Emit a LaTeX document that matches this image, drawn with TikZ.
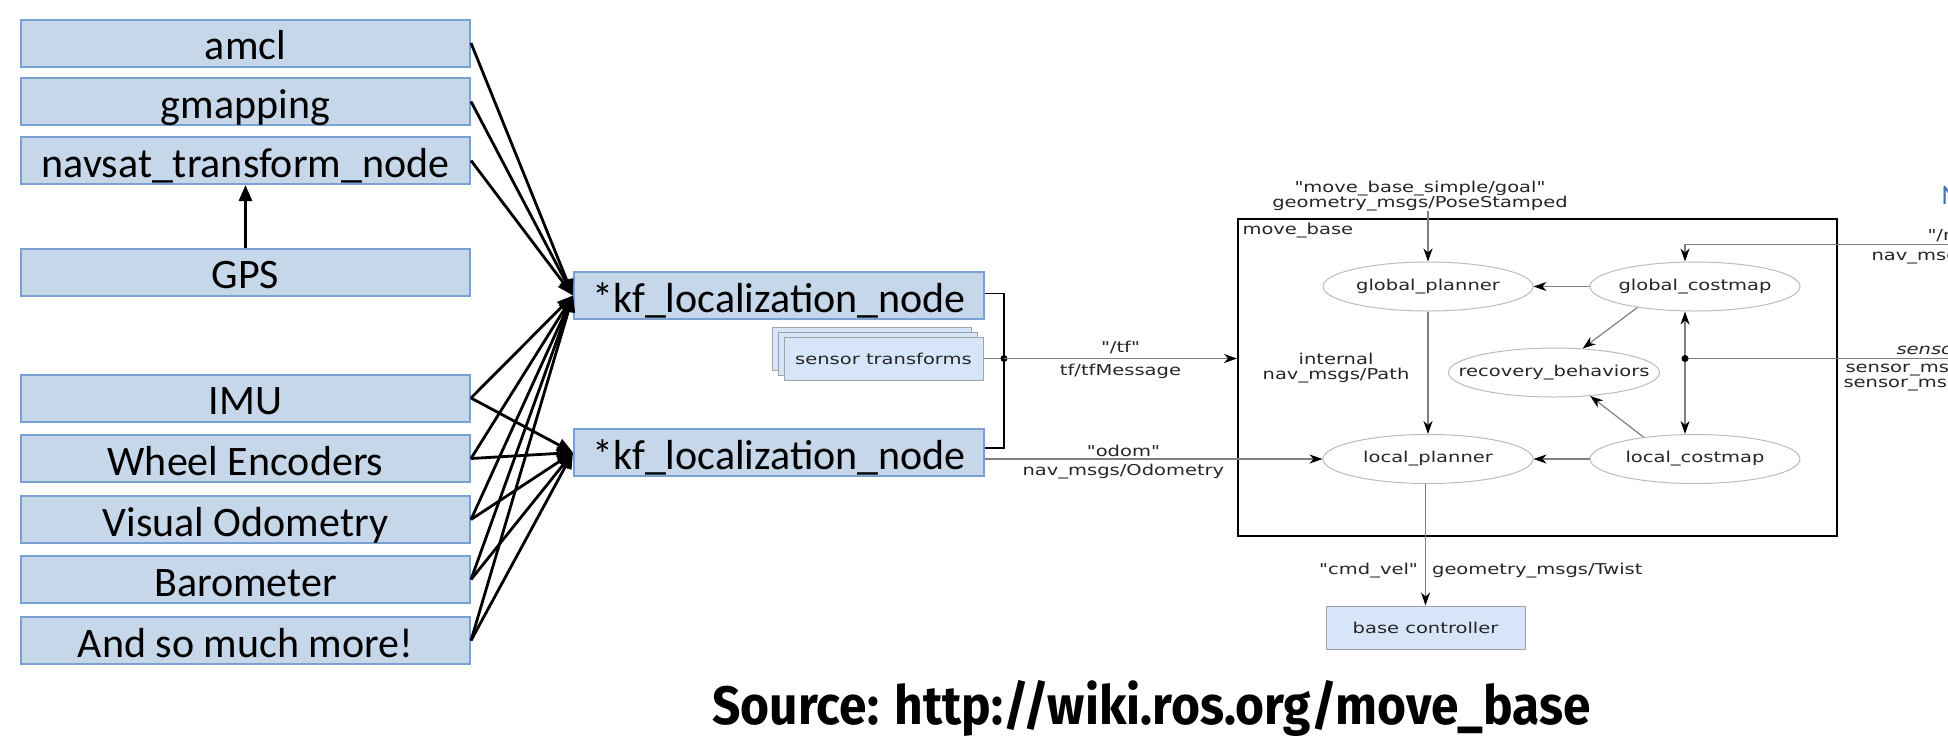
\documentclass[tikz,border=0pt]{standalone}
\usepackage{fontspec}
\setmainfont{Carlito}
\newfontfamily\rosfont[FakeStretch=1.3]{DejaVu Sans}
\newfontfamily\srcfont[FakeStretch=0.92]{Fira Sans}
\usetikzlibrary{arrows.meta, positioning, shapes.geometric, shadows, calc}
\definecolor{cbox}{HTML}{C6D7EA}
\definecolor{cboxline}{HTML}{79A2D3}
\definecolor{crosfill}{HTML}{D6E6F8}
\definecolor{crosline}{HTML}{A3A3A3}
\definecolor{cellipse}{HTML}{BBBBBB}
\definecolor{ctopic}{HTML}{7F7F7F}
\definecolor{cblue}{HTML}{4A73A8}
\tikzset{
  every picture/.style={line width=1pt},
  srcbox/.style={draw=cboxline, fill=cbox, line width=2pt, minimum width=449pt, minimum height=47pt, inner sep=0pt, font=\fontsize{42}{44}\selectfont, text height=36pt, text depth=3pt},
  kfbox/.style={srcbox, minimum width=410pt},
  rosnode/.style={ellipse, draw=cellipse, line width=1pt, minimum width=210pt, minimum height=49pt, inner xsep=-45pt, inner ysep=0pt, font=\rosfont\fontsize{15}{15}\selectfont, text=black!85},
  rosbox/.style={draw=crosline, fill=crosfill, line width=1pt, minimum width=199pt, minimum height=43pt, inner sep=0pt, font=\rosfont\fontsize{15}{15}\selectfont, text=black!85},
  feed/.style={-{Triangle[length=16pt, width=13pt]}, line width=2.8pt},
  topic/.style={draw=ctopic, line width=1.2pt, -{Stealth[length=13pt, width=9pt, inset=4pt, color=black]}},
  topicboth/.style={topic, {Stealth[length=13pt, width=9pt, inset=4pt, color=black]}-{Stealth[length=13pt, width=9pt, inset=4pt, color=black]}},
  lbl/.style={font=\rosfont\fontsize{15}{15}\selectfont, text=black!85, inner sep=0pt, align=center},
}

\begin{document}
\begin{tikzpicture}[x=1pt, y=-1pt]
  \path[use as bounding box] (0,0) rectangle (1948,740);
  \clip (0,0) rectangle (1948,740);

  % sources on the left
  \node[srcbox] (amcl) at (245.5,43) {amcl};
  \node[srcbox] (gmapping) at (245.5,101.5) {gmapping};
  \node[srcbox] (navsat) at (245.5,160.5) {navsat\_transform\_node};
  \node[srcbox] (gps) at (245.5,272) {GPS};
  \node[srcbox] (imu) at (245.5,398) {IMU};
  \node[srcbox] (wheel) at (245.5,458.5) {Wheel Encoders};
  \node[srcbox] (visual) at (245.5,519.5) {Visual Odometry};
  \node[srcbox] (baro) at (245.5,579.5) {Barometer};
  \node[srcbox] (more) at (245.5,640.5) {And so much more!};

  % the two filters
  \node[kfbox] (kfa) at (779,295.5) {*kf\_localization\_node};
  \node[kfbox] (kfb) at (779,452.5) {*kf\_localization\_node};

  \draw[feed] (gps.north) -- (navsat.south);
  \draw[feed] (amcl.east) -- (kfa.west);
  \draw[feed] (gmapping.east) -- (kfa.west);
  \draw[feed] (navsat.east) -- (kfa.west);
  \draw[feed] (imu.east) -- (kfa.west);
  \draw[feed] (imu.east) -- (kfb.west);
  \draw[feed] (wheel.east) -- (kfa.west);
  \draw[feed] (wheel.east) -- (kfb.west);
  \draw[feed] (visual.east) -- (kfa.west);
  \draw[feed] (visual.east) -- (kfb.west);
  \draw[feed] (baro.east) -- (kfa.west);
  \draw[feed] (baro.east) -- (kfb.west);
  \draw[feed] (more.east) -- (kfa.west);
  \draw[feed] (more.east) -- (kfb.west);

  % tf junction
  \node[rosbox, double copy shadow={shadow xshift=-6pt, shadow yshift=5pt}] (tfsrc) at (883.5,358.5) {sensor transforms};
  \coordinate (jn) at (1004,358.5);
  \draw[line width=1.2pt] ([yshift=2pt]kfa.east) -| (jn) |- ([yshift=4.5pt]kfb.east);
  \draw[draw=ctopic, line width=1.2pt] (tfsrc.east) -- (jn);
  \fill (jn) circle (3.5pt);

  % move_base
  \node[draw, line width=2pt, minimum width=599pt, minimum height=317pt, inner sep=0pt] (mb) at (1537.5,377.5) {};
  \node[lbl, anchor=north west] (mblabel) at ([xshift=5pt, yshift=-5pt]mb.north west) {move\_base};
  \node[rosnode] (gplan) at (1428,286.5) {global\_planner};
  \node[rosnode] (gcost) at (1695,286.5) {global\_costmap};
  \node[rosnode, minimum width=211pt] (recov) at (1554,372.5) {recovery\_behaviors};
  \node[rosnode] (lplan) at (1428,459) {local\_planner};
  \node[rosnode] (lcost) at (1695,459) {local\_costmap};
  \node[rosbox] (base) at (1425.5,627.5) {base controller};

  \draw[topic] (jn) -- node[lbl, above=4pt] (tftopic) {"/tf"} node[lbl, below=5pt] (tfmsg) {tf/tfMessage} (jn -| mb.west);
  \draw[topic] ([yshift=-6.5pt]kfb.east) -- node[lbl, pos=0.41, above=2pt] (odomtopic) {"odom"} node[lbl, pos=0.41, below=4pt] (odommsg) {nav\_msgs/Odometry} (lplan.west);

  \node[lbl] (goal) at (1420,196) {"move\_base\_simple/goal"\\geometry\_msgs/PoseStamped};
  \draw[topic] (goal.south -| gplan.north) -- (gplan.north);
  \draw[topic] (gcost) -- (gplan);
  \draw[topic] (lcost) -- (lplan);
  \draw[topic] (gplan) -- (lplan);
  \draw[topic] (gcost.200) -- (recov.40);
  \draw[topic] (lcost.157) -- (recov.-33);
  \draw[topicboth] ([xshift=-10pt]gcost.south) -- ([xshift=-10pt]lcost.north);
  \node[lbl] (pathlbl) at (1336,368) {internal\\nav\_msgs/Path};

  \draw[topic] (lplan.south -| base.north) -- node[lbl, pos=0.71, anchor=east, xshift=-7pt] (cmdtopic) {"cmd\_vel"} node[lbl, pos=0.71, anchor=west, xshift=6pt] (cmdmsg) {geometry\_msgs/Twist} (base.north);

  % inputs cut by the right edge
  \coordinate (mapin) at (1960,244.5);
  \draw[topic] (mapin) -| ([xshift=-10pt]gcost.north);
  \coordinate (sensin) at (1960,358.5);
  \coordinate (sdot) at (1685,358.5);
  \draw[draw=ctopic, line width=1.2pt] (sensin) -- (sdot);
  \fill (sdot) circle (3.5pt);
  \node[lbl, anchor=base west] (maptopic) at (1927,240) {"/map"};
  \node[lbl, anchor=base west] (mapmsg) at (1871,260) {nav\_msgs/OccupancyGrid};
  \node[lbl, anchor=base west, font=\rosfont\itshape\fontsize{15}{15}\selectfont] (senstopic) at (1896,354) {sensor topics};
  \node[lbl, anchor=base west] (sensmsga) at (1845,372) {sensor\_msgs/LaserScan};
  \node[lbl, anchor=base west] (sensmsgb) at (1843,387) {sensor\_msgs/PointCloud};
  \node[anchor=base west, inner sep=0pt, text=cblue, font=\fontsize{28}{28}\selectfont] (navhead) at (1941,204) {N};

  \node[anchor=base west, inner sep=0pt, font=\srcfont\bfseries\fontsize{54}{54}\selectfont] (source) at (712,724) {Source: http://wiki.ros.org/move\_base};
\end{tikzpicture}
\end{document}
